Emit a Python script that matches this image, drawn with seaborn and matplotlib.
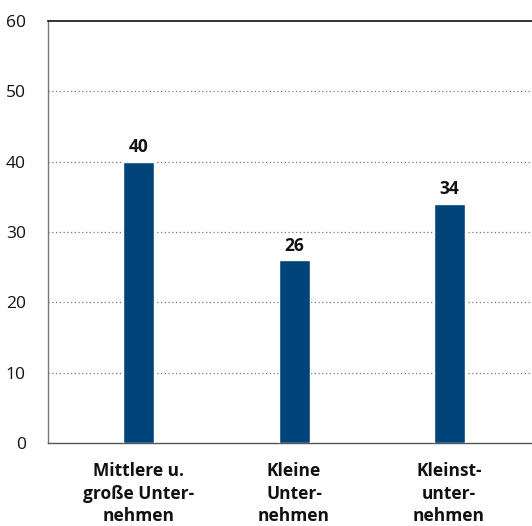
import matplotlib
matplotlib.use("Agg")
import matplotlib.pyplot as plt
import seaborn as sns
import pandas as pd

categories = ["Mittlere u.\ngroße Unter-\nnehmen", "Kleine\nUnter-\nnehmen", "Kleinst-\nunter-\nnehmen"]
values = [40, 26, 34]
yticks = [0, 10, 20, 30, 40, 50, 60]

sns.set_theme(style="white")
plt.rcParams["font.family"] = ["Open Sans", "DejaVu Sans"]

df = pd.DataFrame({"Kategorie": categories, "Wert": values})

fig = plt.figure(figsize=(5.32, 5.26), dpi=100)
ax = fig.add_axes([0.0902, 0.158, 0.9098, 0.802])

sns.barplot(data=df, x="Kategorie", y="Wert", color="#00447a", width=0.2,
            saturation=1, ax=ax, zorder=3)

ax.set_ylim(0, 60)
ax.set_xlim(-0.587, 2.535)
ax.set_yticks(yticks)
ax.set_yticklabels([str(t) for t in yticks], fontsize=12.5, color="#111111")
ax.tick_params(axis="y", length=0, pad=16)
ax.tick_params(axis="x", length=0, pad=14)
ax.set_xticks(range(len(categories)))
ax.set_xticklabels(categories, fontsize=12.5, fontweight="bold", color="#111111",
                   linespacing=1.3)
ax.set_xlabel("")
ax.set_ylabel("")

# dotted horizontal guides between the baseline and the top border
for t in yticks[1:-1]:
    ax.axhline(t, color="#777777", lw=0.9, ls=(0, (1, 2)), zorder=1)

ax.spines["right"].set_visible(False)
ax.spines["top"].set_color("#111111")
ax.spines["top"].set_linewidth(1.2)
ax.spines["left"].set_color("#777777")
ax.spines["left"].set_linewidth(1.0)
ax.spines["bottom"].set_color("#555555")
ax.spines["bottom"].set_linewidth(1.0)

# value labels above each bar
for i, v in enumerate(values):
    ax.annotate(f"{v}", (i, v), xytext=(0, 4), textcoords="offset points",
                ha="center", va="bottom", fontsize=12.5, fontweight="bold",
                color="#111111")

fig.savefig("out.png", dpi=100)
